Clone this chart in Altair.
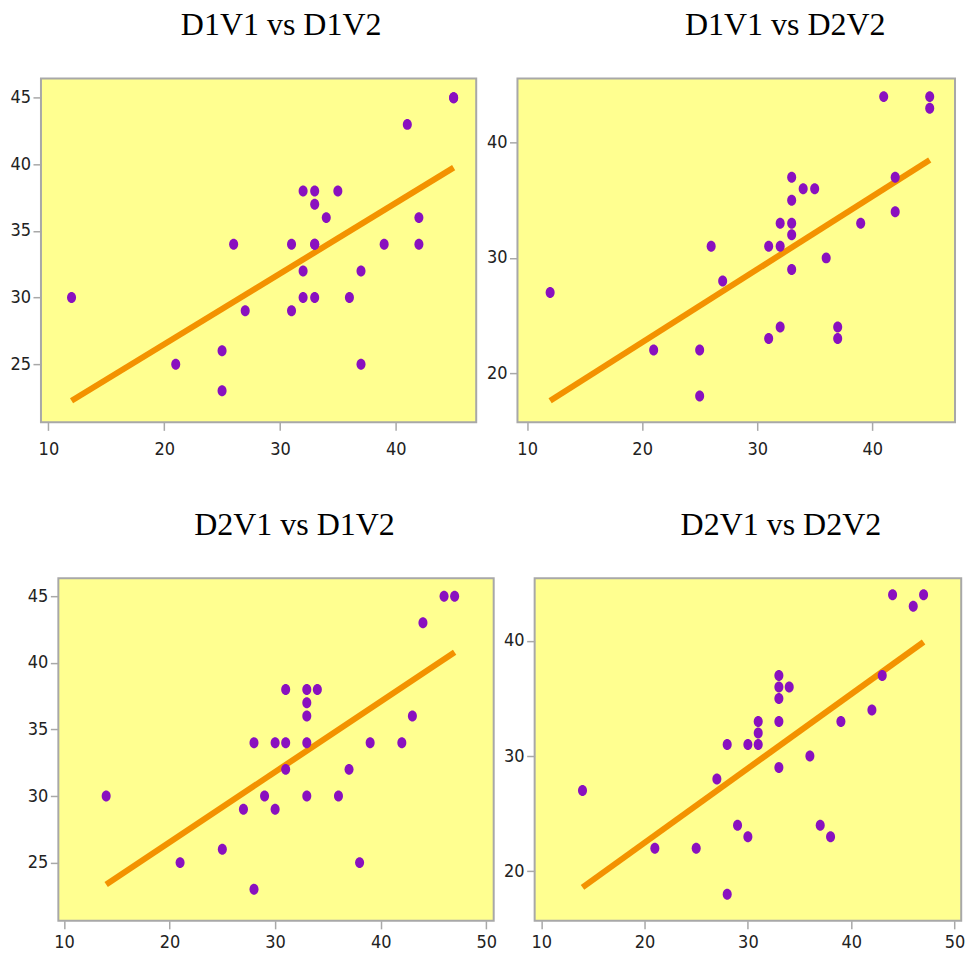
import altair as alt
import pandas as pd

# ---- data ----
# Panel 1: D1V1 (x) vs D1V2 (y)
p1_x = [12, 21, 25, 25, 26, 27, 31, 31, 32, 32, 32, 33, 33, 33, 33, 33, 34, 35, 36, 37, 37, 39, 41, 42, 42, 45, 45]
p1_y = [30, 25, 26, 23, 34, 29, 34, 29, 38, 32, 30, 38, 37, 34, 34, 30, 36, 38, 30, 32, 25, 34, 43, 36, 34, 45, 45]
p1_fit_x = [12, 45]
p1_fit_y = [22.25, 39.75]

# Panel 2: D1V1 (x) vs D2V2 (y)
p2_x = [12, 21, 25, 25, 26, 27, 31, 31, 32, 32, 32, 33, 33, 33, 33, 33, 34, 35, 36, 37, 37, 39, 41, 42, 42, 45, 45]
p2_y = [27, 22, 22, 18, 31, 28, 31, 23, 33, 31, 24, 37, 35, 33, 32, 29, 36, 36, 30, 24, 23, 33, 44, 37, 34, 44, 43]
p2_fit_x = [12, 45]
p2_fit_y = [17.6, 38.5]

# Panel 3: D2V1 (x) vs D1V2 (y)
p3_x = [14, 21, 25, 27, 28, 28, 29, 30, 30, 31, 31, 31, 33, 33, 33, 33, 33, 34, 36, 37, 38, 39, 42, 43, 44, 46, 47]
p3_y = [30, 25, 26, 29, 34, 23, 30, 34, 29, 38, 34, 32, 38, 37, 36, 34, 30, 38, 30, 32, 25, 34, 34, 36, 43, 45, 45]
p3_fit_x = [14, 47]
p3_fit_y = [23.35, 40.8]

# Panel 4: D2V1 (x) vs D2V2 (y)
p4_x = [14, 21, 25, 27, 28, 28, 29, 30, 30, 31, 31, 31, 33, 33, 33, 33, 33, 34, 36, 37, 38, 39, 42, 43, 44, 46, 47]
p4_y = [27, 22, 22, 28, 31, 18, 24, 31, 23, 33, 32, 31, 37, 36, 35, 33, 29, 36, 30, 24, 23, 33, 34, 37, 44, 43, 44]
p4_fit_x = [14, 47]
p4_fit_y = [18.6, 39.9]

titles = ["D1V1 vs D1V2", "D1V1 vs D2V2", "D2V1 vs D1V2", "D2V1 vs D2V2"]
x_ticks_top = [10, 20, 30, 40]
x_ticks_bottom = [10, 20, 30, 40, 50]
y_ticks_a = [25, 30, 35, 40, 45]
y_ticks_b = [20, 30, 40]

PURPLE = "#8A10BF"
ORANGE = "#F39200"
YELLOW = "#FFFF90"
GRAY = "#A8A8A8"
LABEL_FONT = "Liberation Sans Narrow, Arial Narrow, DejaVu Sans Condensed, Liberation Sans"
ELLIPSE = "M -0.82 0 A 0.82 1 0 1 0 0.82 0 A 0.82 1 0 1 0 -0.82 0 Z"


def panel(xs, ys, fx, fy, xdom, ydom, xticks, yticks, title, w, h, title_dx, xpad):
    pts = pd.DataFrame({"x": xs, "y": ys})
    fit = pd.DataFrame({"x": fx, "y": fy})
    xenc = alt.X("x:Q", scale=alt.Scale(domain=xdom, nice=False, zero=False),
                 axis=alt.Axis(values=xticks, title=None, labelPadding=xpad))
    yenc = alt.Y("y:Q", scale=alt.Scale(domain=ydom, nice=False, zero=False),
                 axis=alt.Axis(values=yticks, title=None, labelPadding=2.5))
    line = alt.Chart(fit).mark_line(color=ORANGE, strokeWidth=6, strokeCap="butt").encode(x=xenc, y=yenc)
    dots = alt.Chart(pts).mark_point(filled=True, shape=ELLIPSE, size=121, color=PURPLE,
                                     opacity=1).encode(x=xenc, y=yenc)
    return alt.layer(line, dots).properties(
        width=w, height=h,
        title=alt.TitleParams(text=title, font="Liberation Serif", fontSize=32,
                              fontWeight="normal", color="#000000", anchor="middle",
                              frame="group", offset=36, dx=title_dx),
    )


c1 = panel(p1_x, p1_y, p1_fit_x, p1_fit_y, [9.36, 46.95], [20.63, 46.45],
           x_ticks_top, y_ticks_a, titles[0], 435.7, 344.3, 22.6, 10)
c2 = panel(p2_x, p2_y, p2_fit_x, p2_fit_y, [9.16, 47.2], [15.72, 45.58],
           x_ticks_top, y_ticks_b, titles[1], 438, 344.3, 49, 10)
c3 = panel(p3_x, p3_y, p3_fit_x, p3_fit_y, [9.47, 50.7], [20.63, 46.35],
           x_ticks_bottom, y_ticks_a, titles[2], 435.8, 343, 18.5, 5)
c4 = panel(p4_x, p4_y, p4_fit_x, p4_fit_y, [9.37, 50.64], [15.69, 45.44],
           x_ticks_bottom, y_ticks_b, titles[3], 427, 343, 33, 5)

spacer = alt.Chart(pd.DataFrame({"v": [0]})).mark_point(opacity=0).encode(
    x=alt.value(0), y=alt.value(0)
).properties(width=1, height=1,
             view=alt.ViewBackground(fill="transparent", stroke="transparent"))

row1 = alt.hconcat(c1, c2, spacing=41, bounds="flush")
row2 = alt.hconcat(spacer, alt.hconcat(c3, c4, spacing=40.8, bounds="flush"),
                   spacing=16.4, bounds="flush")

# nested concat groups count as zero height under "flush", so spacing = row pitch
chart = alt.vconcat(row1, row2, spacing=500.3, bounds="flush").properties(
    padding={"left": 0, "top": 0, "right": 0, "bottom": 0},
    background="white",
).configure_view(
    fill=YELLOW, stroke=GRAY, strokeWidth=2
).configure_axis(
    grid=False, domain=False,
    tickColor=GRAY, tickWidth=1.5, tickSize=8,
    labelFont=LABEL_FONT, labelFontSize=18, labelColor="#222222",
)

chart.save("out.html", embed_options={"renderer": "svg", "actions": False})
